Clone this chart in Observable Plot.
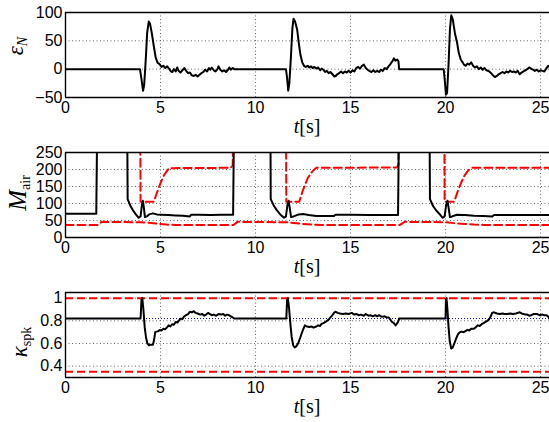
<!DOCTYPE html>
<html><head><meta charset="utf-8">
<script src="https://cdn.jsdelivr.net/npm/d3@7"></script>
<script src="https://cdn.jsdelivr.net/npm/@observablehq/plot@0.6"></script>
<style>body{margin:0;background:#fff;overflow:hidden} svg{display:block}</style>
</head><body><div id="chart"></div>
<script>
const xDomain = [0, 25.47];
const xTicks = [0, 5, 10, 15, 20, 25];

// Panel 1: epsilon_N
const epsYDomain = [-50, 100];
const epsYTicks = [-50, 0, 50, 100];
const epsN = [[0,0],[3.92,0],[4.0,-18],[4.08,-38],[4.14,-28],[4.22,15],[4.3,65],[4.38,84],[4.45,80],[4.55,62],[4.65,40],[4.75,20],[4.85,11],[4.95,9],[5.05,4],[5.15,6],[5.25,2],[5.35,5],[5.45,1],[5.55,-4],[5.62,-5],[5.7,0],[5.8,-4],[5.88,3],[5.95,-3],[6.05,-6],[6.15,-2],[6.25,2],[6.35,-3],[6.45,-7],[6.55,-6],[6.65,-11],[6.75,-12],[6.85,-10],[6.95,-13],[7.05,-10],[7.15,-7],[7.25,-5],[7.35,-1],[7.45,-4],[7.55,2],[7.62,-1],[7.7,3],[7.8,-2],[7.9,-4],[8.0,0],[8.05,5],[8.15,-1],[8.25,-4],[8.35,-2],[8.45,-5],[8.55,-1],[8.62,3],[8.7,-1],[8.8,2],[8.88,0],[11.6,0],
[11.66,-15],[11.72,-38],[11.78,-25],[11.86,20],[11.94,72],[12.0,89],[12.08,84],[12.19,70],[12.28,45],[12.37,24],[12.46,12],[12.55,6],[12.65,4],[12.75,6],[12.83,3],[12.92,5],[13.0,2],[13.1,4],[13.2,1],[13.3,3],[13.4,-2],[13.48,1],[13.57,-1],[13.66,-5],[13.75,-3],[13.85,-7],[13.94,-5],[14.05,-9],[14.15,-13],[14.22,-12],[14.3,-9],[14.4,-7],[14.5,-4],[14.6,-7],[14.7,-4],[14.8,-6],[14.9,-3],[15.0,-6],[15.1,-2],[15.2,-4],[15.3,2],[15.4,4],[15.5,1],[15.6,6],[15.7,8],[15.8,2],[15.9,-1],[15.98,-3],[16.1,-5],[16.2,-2],[16.3,-5],[16.4,-3],[16.5,-5],[16.6,-1],[16.7,-3],[16.8,2],[16.9,0],[17.0,5],[17.1,9],[17.2,14],[17.28,19],[17.36,15],[17.46,17],[17.52,14],[17.56,0],[19.9,0],
[19.96,-20],[20.02,-45],[20.08,-42],[20.16,10],[20.23,70],[20.3,95],[20.38,88],[20.5,62],[20.6,48],[20.7,28],[20.8,17],[20.9,12],[20.97,8],[21.07,6],[21.15,10],[21.25,8],[21.35,12],[21.45,6],[21.55,3],[21.65,5],[21.75,0],[21.85,3],[21.95,-1],[22.05,2],[22.15,-2],[22.3,-4],[22.4,-7],[22.5,-11],[22.6,-14],[22.7,-12],[22.8,-9],[22.9,-7],[23.0,-5],[23.1,-7],[23.2,-4],[23.3,-6],[23.4,-3],[23.5,-5],[23.6,-4],[23.7,-6],[23.8,-3],[23.9,-9],[24.0,-6],[24.1,-4],[24.2,-2],[24.3,0],[24.4,3],[24.5,1],[24.6,-1],[24.7,-3],[24.8,-1],[24.9,-4],[25.0,-2],[25.1,-3],[25.2,-4],[25.3,1],[25.4,6],[25.5,4]];

// Panel 2: M_air (400 = above the visible range)
const mYDomain = [0, 250];
const mYTicks = [0, 50, 100, 150, 200, 250];
const mAir = [[0,70],[1.62,70],[1.68,400],[3.24,400],[3.27,113],[3.4,95],[3.55,80],[3.7,68],[3.85,58],[3.95,62],[4.02,95],[4.07,108],[4.12,90],[4.18,60],[4.28,62],[4.4,68],[4.6,71],[4.8,68],[5.05,67],[5.4,66],[5.8,65],[6.2,64],[6.54,62],[6.62,67],[7.0,67],[7.65,66],[8.2,67],[8.82,67],[8.88,400],[10.78,400],[10.8,113],[10.95,95],[11.1,82],[11.3,68],[11.5,58],[11.6,62],[11.68,95],[11.74,108],[11.8,88],[11.87,60],[12.0,62],[12.28,68],[12.5,69],[12.8,66],[13.2,63],[13.7,63],[14.13,63],[14.2,67],[15.0,67],[16.0,66],[17.0,66],[17.5,66],[17.56,400],[19.15,400],[19.18,113],[19.35,92],[19.5,80],[19.7,68],[19.85,58],[19.95,62],[20.03,95],[20.1,108],[20.16,88],[20.23,60],[20.35,62],[20.6,67],[21.0,66],[21.5,64],[22.0,63],[22.46,62],[22.55,66],[23.5,66],[24.5,66],[25.5,66]];
const mUpper = [[0,400],[3.93,400],[3.95,105],[4.65,105],[4.8,130],[5.0,160],[5.2,185],[5.45,204],[8.7,205],[8.8,212],[8.84,400],[11.6,400],[11.62,105],[12.3,105],[12.5,140],[12.75,175],[13.0,195],[13.2,205],[17.45,206],[17.52,215],[17.56,400],[19.93,400],[19.95,105],[20.45,105],[20.7,145],[20.95,178],[21.2,198],[21.4,205],[25.5,205]];
const mLower = [[0,37],[1.7,37],[1.9,46],[3.95,45],[4.3,44],[4.8,41],[5.3,38],[5.8,37],[8.84,37],[9.05,46],[11.6,45],[12.0,43],[12.5,40],[13.0,38],[13.5,37],[17.6,37],[17.85,46],[20.0,45],[20.5,42],[21.0,40],[21.5,38],[22.0,37],[25.5,37]];

// Panel 3: kappa_spk
const kYDomain = [0.3, 1.05];
const kYTicks = [0.4, 0.6, 0.8, 1];
const kLimits = [1, 0.35];
const kNominal = [0.82];
const kSpk = [[0,0.82],[3.95,0.82],[4.0,0.99],[4.04,1.0],[4.1,0.9],[4.17,0.74],[4.24,0.65],[4.31,0.6],[4.4,0.585],[4.5,0.59],[4.6,0.59],[4.66,0.63],[4.72,0.70],[4.8,0.705],[4.9,0.71],[4.96,0.72],[5.05,0.715],[5.15,0.73],[5.24,0.725],[5.33,0.74],[5.43,0.76],[5.52,0.75],[5.61,0.77],[5.7,0.765],[5.8,0.79],[5.9,0.785],[6.0,0.81],[6.07,0.82],[6.15,0.815],[6.25,0.84],[6.35,0.85],[6.45,0.86],[6.54,0.88],[6.65,0.875],[6.75,0.885],[6.85,0.87],[6.95,0.865],[7.09,0.855],[7.2,0.86],[7.3,0.845],[7.4,0.855],[7.5,0.87],[7.6,0.86],[7.7,0.85],[7.8,0.855],[7.93,0.845],[8.05,0.86],[8.2,0.855],[8.3,0.86],[8.4,0.845],[8.5,0.855],[8.6,0.85],[8.7,0.84],[8.8,0.83],[8.88,0.82],[11.62,0.82],
[11.66,0.98],[11.7,1.0],[11.76,0.92],[11.82,0.8],[11.9,0.66],[11.98,0.585],[12.06,0.565],[12.14,0.575],[12.24,0.6],[12.33,0.64],[12.43,0.69],[12.52,0.73],[12.6,0.76],[12.7,0.75],[12.83,0.745],[12.95,0.75],[13.05,0.74],[13.2,0.75],[13.3,0.76],[13.4,0.755],[13.48,0.775],[13.58,0.78],[13.68,0.79],[13.76,0.80],[13.85,0.81],[13.94,0.83],[14.05,0.85],[14.15,0.875],[14.22,0.88],[14.32,0.87],[14.45,0.865],[14.6,0.86],[14.75,0.865],[14.9,0.86],[15.06,0.87],[15.2,0.855],[15.3,0.86],[15.43,0.85],[15.55,0.855],[15.7,0.845],[15.8,0.86],[15.95,0.845],[16.05,0.85],[16.17,0.84],[16.3,0.85],[16.4,0.84],[16.5,0.85],[16.65,0.835],[16.8,0.84],[16.9,0.83],[17.0,0.83],[17.1,0.81],[17.18,0.79],[17.28,0.78],[17.37,0.76],[17.44,0.775],[17.5,0.79],[17.56,0.82],[20.0,0.82],
[20.02,0.99],[20.05,1.0],[20.1,0.9],[20.16,0.74],[20.22,0.62],[20.3,0.555],[20.38,0.565],[20.46,0.6],[20.55,0.64],[20.65,0.68],[20.75,0.70],[20.85,0.705],[20.95,0.70],[21.05,0.71],[21.15,0.72],[21.25,0.715],[21.35,0.73],[21.5,0.73],[21.6,0.745],[21.7,0.76],[21.8,0.755],[21.9,0.77],[22.0,0.78],[22.1,0.79],[22.2,0.80],[22.3,0.815],[22.38,0.84],[22.45,0.87],[22.55,0.875],[22.7,0.865],[22.85,0.86],[23.0,0.865],[23.1,0.86],[23.25,0.86],[23.4,0.865],[23.55,0.86],[23.7,0.865],[23.8,0.87],[23.9,0.875],[24.0,0.865],[24.1,0.86],[24.2,0.855],[24.3,0.855],[24.4,0.845],[24.5,0.85],[24.65,0.86],[24.8,0.86],[24.95,0.85],[25.1,0.855],[25.2,0.85],[25.3,0.85],[25.4,0.84],[25.45,0.82],[25.5,0.82]];

const fmt = d3.format("~g");
const serif = "'Liberation Serif', 'DejaVu Serif', serif";
const gridStyle = {stroke: "#666", strokeWidth: 1, strokeDasharray: "1,2.5"};
const lineOpts = {x: d => d[0], y: d => d[1], stroke: "#000", strokeWidth: 2, clip: true};
const redOpts = {x: d => d[0], y: d => d[1], stroke: "#ff0000", strokeWidth: 2, strokeDasharray: "8,4", clip: true};

function panel(yDomain, yTicks, marks, label) {
  const svg = Plot.plot({
    width: 549, height: 140,
    marginLeft: 65, marginRight: 0, marginTop: 12, marginBottom: 43,
    style: {fontFamily: "'Liberation Sans', Arial, sans-serif", fontSize: "16px", color: "#000", background: "#fff", overflow: "visible"},
    x: {domain: xDomain, ticks: xTicks, tickSize: 0, tickPadding: 4, label: null, tickFormat: fmt},
    y: {domain: yDomain, ticks: yTicks, tickSize: 0, tickPadding: 3, label: null, tickFormat: fmt},
    marks: [
      Plot.ruleX(xTicks.filter(t => t > 0), gridStyle),
      Plot.ruleY(yTicks.filter(v => v > yDomain[0] && v < yDomain[1]), gridStyle),
      ...marks,
      Plot.ruleX([xDomain[0]], {stroke: "#000", strokeWidth: 1.4}),
      Plot.ruleY(yDomain, {stroke: "#000", strokeWidth: 1.4})
    ]
  });
  const s = d3.select(svg);
  const xl = s.append("text").attr("x", 307).attr("y", 133).attr("text-anchor", "middle")
    .attr("font-family", serif).attr("font-size", 20).attr("fill", "#000");
  xl.append("tspan").attr("font-style", "italic").text("t");
  xl.append("tspan").text("[s]");
  const yl = s.append("text").attr("transform", `translate(${label.x},${label.y}) rotate(-90)`)
    .attr("text-anchor", "middle").attr("font-family", serif).attr("fill", "#000");
  yl.append("tspan").attr("font-style", "italic").attr("font-size", label.size).text(label.main);
  yl.append("tspan").attr("font-style", label.subItalic ? "italic" : "normal").attr("font-size", 14).attr("dy", 4).text(label.sub);
  return svg;
}

const root = document.getElementById("chart");
root.append(panel(epsYDomain, epsYTicks, [
  Plot.line(epsN, lineOpts)
], {x: 23, y: 46, main: "ε", sub: "N", subItalic: true, size: 23}));

root.append(panel(mYDomain, mYTicks, [
  Plot.line(mLower, redOpts),
  Plot.line(mUpper, redOpts),
  Plot.line(mAir, lineOpts)
], {x: 26, y: 53, main: "M", sub: "air", subItalic: false, size: 25}));

root.append(panel(kYDomain, kYTicks, [
  Plot.ruleY(kNominal, {stroke: "#0000ff", strokeWidth: 1, strokeDasharray: "1,2"}),
  Plot.ruleY(kLimits, {stroke: "#ff0000", strokeWidth: 2, strokeDasharray: "8,4"}),
  Plot.line(kSpk, lineOpts)
], {x: 27, y: 62, main: "κ", sub: "spk", subItalic: false, size: 23}));
</script>
</body></html>
